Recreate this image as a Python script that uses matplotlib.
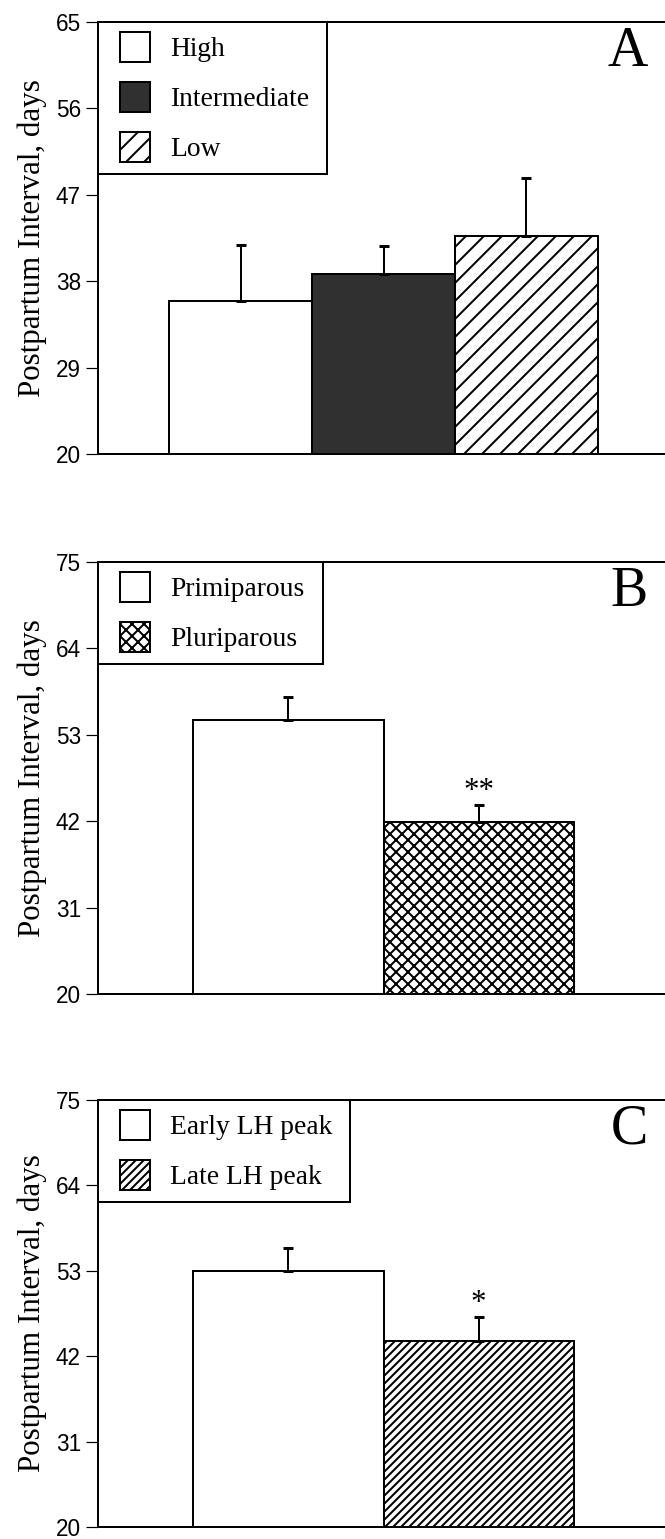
import matplotlib
matplotlib.use("Agg")
import matplotlib.pyplot as plt
from matplotlib.patches import Patch, Rectangle
from matplotlib.legend_handler import HandlerPatch

# ---------------- data ----------------
labels_a = ["High", "Intermediate", "Low"]
means_a = [35.9, 38.8, 42.7]
errs_a = [5.9, 2.9, 6.1]
yticks_a = [20, 29, 38, 47, 56, 65]

labels_b = ["Primiparous", "Pluriparous"]
means_b = [54.9, 41.9]
errs_b = [2.9, 2.1]
yticks_b = [20, 31, 42, 53, 64, 75]
stars_b = ["", "**"]

labels_c = ["Early LH peak", "Late LH peak"]
means_c = [53.0, 44.0]
errs_c = [3.0, 3.0]
yticks_c = [20, 31, 42, 53, 64, 75]
stars_c = ["", "*"]

ylabel = "Postpartum Interval, days"
panel_letters = ["A", "B", "C"]

# ---------------- styles ----------------
DPI = 216
W, H = 665, 1539
PX = 72.0 / DPI  # points per pixel

plt.rcParams["hatch.linewidth"] = 2.0 * PX
plt.rcParams["font.family"] = ["Liberation Serif", "DejaVu Serif"]

styles_a = [dict(facecolor="white", hatch=None),
            dict(facecolor="#303030", hatch=None),
            dict(facecolor="white", hatch="////")]
styles_b = [dict(facecolor="white", hatch=None),
            dict(facecolor="white", hatch="xxxxxx")]
styles_c = [dict(facecolor="white", hatch=None),
            dict(facecolor="white", hatch="/////////")]

fig = plt.figure(figsize=(W / DPI, H / DPI), dpi=DPI)

LEFT = 98
AX_W = 571
panels = [
    (22, 454, labels_a, means_a, errs_a, yticks_a, styles_a, None, (-1.0, 3.0), 327),
    (562, 994, labels_b, means_b, errs_b, yticks_b, styles_b, stars_b, (-1.0, 2.0), 323),
    (1100, 1527, labels_c, means_c, errs_c, yticks_c, styles_c, stars_c, (-1.0, 2.0), 350),
]


class SquareHandler(HandlerPatch):
    def create_artists(self, legend, orig_handle, xdescent, ydescent,
                       width, height, fontsize, trans):
        side = 30 * PX
        off = width - side
        p = Rectangle((-xdescent + off, -ydescent + (height - side) / 2),
                      side, side,
                      facecolor=orig_handle.get_facecolor(),
                      edgecolor="black", hatch=orig_handle.get_hatch(),
                      linewidth=2.0 * PX)
        p.set_transform(trans)
        return [p]


lw = 2.0 * PX
for i, (top, bot, labels, means, errs, yticks, styles, stars, xlim, leg_r) in enumerate(panels):
    ax = fig.add_axes([LEFT / W, 1 - bot / H, AX_W / W, (bot - top) / H])
    x = list(range(len(means)))
    for xi, m, st in zip(x, means, styles):
        ax.bar(xi, m - yticks[0], bottom=yticks[0], width=1.0,
               facecolor=st["facecolor"], edgecolor="black",
               hatch=st["hatch"], linewidth=lw, zorder=2)
    ax.errorbar(x, means, yerr=[[0] * len(errs), errs], fmt="none",
                ecolor="black", elinewidth=lw, capsize=5 * PX,
                capthick=3 * PX, zorder=3)
    if stars is not None:
        for xi, m, e, s in zip(x, means, errs, stars):
            if s:
                ax.annotate(s, (xi, m + e), xytext=(0, 6 * PX),
                            textcoords="offset points", ha="center",
                            va="baseline", fontsize=31 * PX)
    ax.set_xlim(*xlim)
    ax.set_ylim(yticks[0], yticks[-1])
    ax.set_yticks(yticks)
    ax.set_xticks([])
    for lab in ax.get_yticklabels():
        lab.set_fontfamily(["Liberation Sans", "DejaVu Sans"])
    ax.tick_params(axis="y", direction="out", length=12 * PX,
                   width=1.2 * PX, pad=5 * PX, labelsize=22.5 * PX)
    for sp in ["left", "bottom", "top"]:
        ax.spines[sp].set_linewidth(lw)
    ax.spines["right"].set_visible(False)
    ax.set_ylabel(ylabel, fontsize=31 * PX)
    ax.yaxis.set_label_coords((47 - LEFT) / AX_W, 0.5)

    ax.text((648 - LEFT) / AX_W, 1 - 44 / (bot - top), panel_letters[i],
            transform=ax.transAxes, ha="right", va="baseline",
            fontsize=56 * PX)

    handles = [Patch(facecolor=st["facecolor"], edgecolor="black",
                     hatch=st["hatch"], label=l)
               for st, l in zip(styles, labels)]
    fs = 27.5 * PX
    leg = ax.legend(handles=handles, loc="upper left",
                    bbox_to_anchor=(0, 1, (leg_r - LEFT) / AX_W, 0),
                    mode="expand", borderaxespad=0,
                    prop={"size": fs}, handlelength=40 / 27.5,
                    handleheight=30 / 27.5, handletextpad=20 / 27.5,
                    labelspacing=21.5 / 27.5, borderpad=12 / 27.5,
                    fancybox=False, framealpha=1, edgecolor="black",
                    handler_map={Patch: SquareHandler()})
    leg.get_frame().set_linewidth(lw)
    leg.set_zorder(5)

fig.savefig("out.png", dpi=DPI)
